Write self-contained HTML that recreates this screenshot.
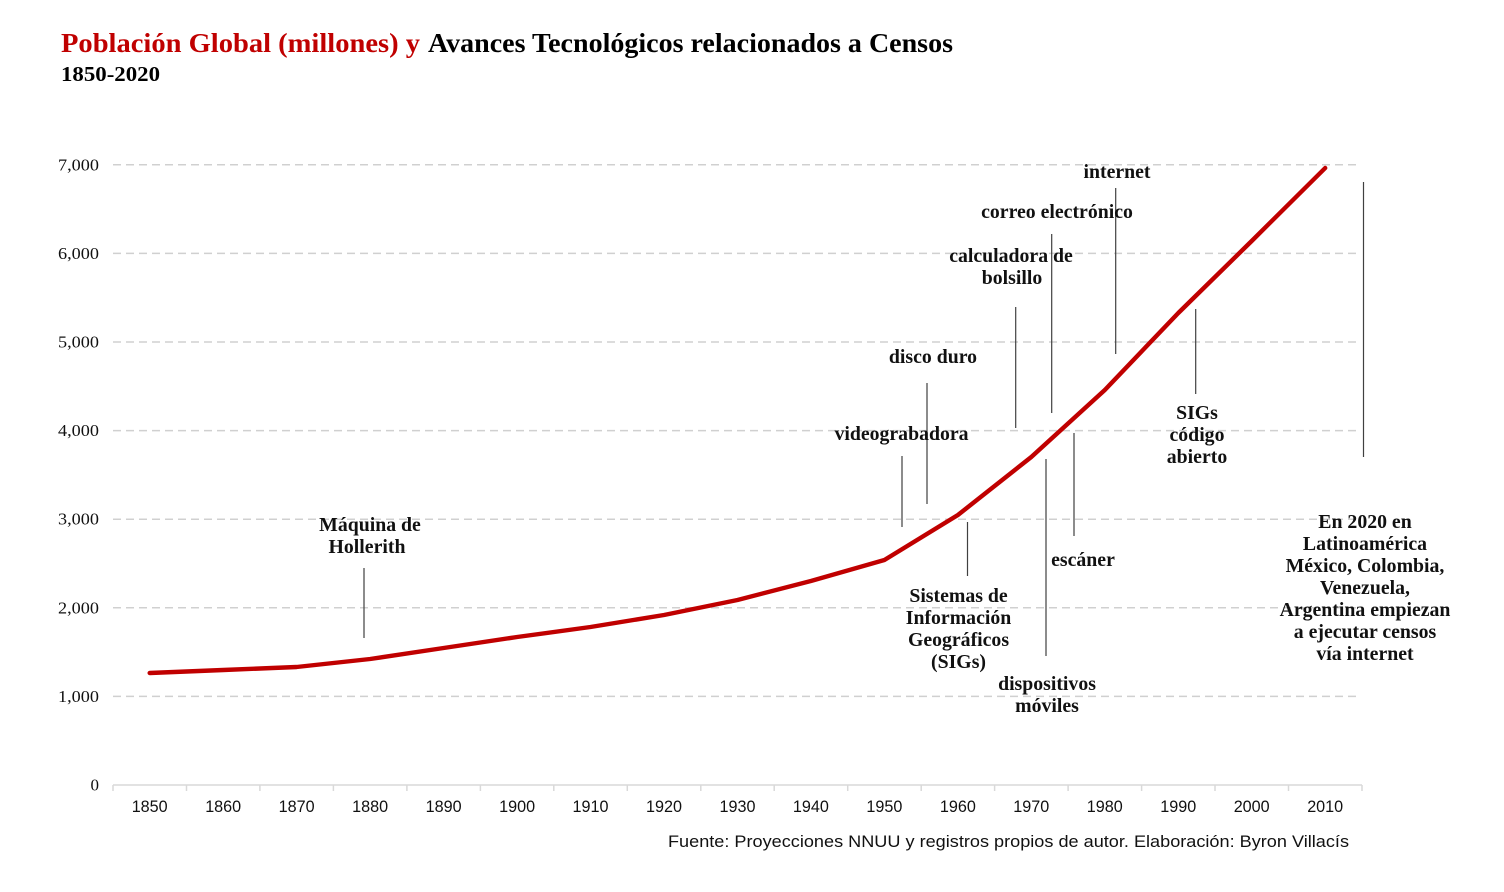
<!DOCTYPE html>
<html>
<head>
<meta charset="utf-8">
<style>
html,body{margin:0;padding:0;background:#fff;}
svg{display:block;}
.ann{font-family:"Liberation Serif",serif;font-weight:bold;font-size:19.8px;fill:#111;text-anchor:middle;}
.yl{font-family:"Liberation Serif",serif;font-size:17px;fill:#111;text-anchor:end;}
.xl{font-family:"Liberation Sans",sans-serif;font-size:17px;fill:#111;text-anchor:middle;}
</style>
</head>
<body>
<svg width="1504" height="892" viewBox="0 0 1504 892" xmlns="http://www.w3.org/2000/svg">
<rect width="1504" height="892" fill="#fff"/>
<!-- Title -->
<text x="61" y="52" font-family="Liberation Serif,serif" font-weight="bold" font-size="27" fill="#c00000" textLength="359" lengthAdjust="spacingAndGlyphs">Población Global (millones) y</text>
<text x="428" y="52" font-family="Liberation Serif,serif" font-weight="bold" font-size="27" fill="#000" textLength="525" lengthAdjust="spacingAndGlyphs">Avances Tecnológicos relacionados a Censos</text>
<text x="61" y="81" font-family="Liberation Serif,serif" font-weight="bold" font-size="21" fill="#000" textLength="99" lengthAdjust="spacingAndGlyphs">1850-2020</text>

<!-- Gridlines -->
<g stroke="#d0d0d0" stroke-width="1.5" stroke-dasharray="8,5">
<line x1="113" y1="696.4" x2="1360" y2="696.4"/>
<line x1="113" y1="607.8" x2="1360" y2="607.8"/>
<line x1="113" y1="519.2" x2="1360" y2="519.2"/>
<line x1="113" y1="430.6" x2="1360" y2="430.6"/>
<line x1="113" y1="342" x2="1360" y2="342"/>
<line x1="113" y1="253.4" x2="1360" y2="253.4"/>
<line x1="113" y1="164.8" x2="1360" y2="164.8"/>
</g>

<!-- Y labels -->
<g class="yl">
<text x="99" y="790.5">0</text>
<text x="99" y="701.9" textLength="41" lengthAdjust="spacingAndGlyphs">1,000</text>
<text x="99" y="613.3" textLength="41" lengthAdjust="spacingAndGlyphs">2,000</text>
<text x="99" y="524.7" textLength="41" lengthAdjust="spacingAndGlyphs">3,000</text>
<text x="99" y="436.1" textLength="41" lengthAdjust="spacingAndGlyphs">4,000</text>
<text x="99" y="347.5" textLength="41" lengthAdjust="spacingAndGlyphs">5,000</text>
<text x="99" y="258.9" textLength="41" lengthAdjust="spacingAndGlyphs">6,000</text>
<text x="99" y="170.3" textLength="41" lengthAdjust="spacingAndGlyphs">7,000</text>
</g>

<!-- X axis -->
<g stroke="#d9d9d9" stroke-width="1.5">
<line x1="113" y1="785" x2="1362" y2="785"/>
<line x1="113" y1="785" x2="113" y2="791"/>
<line x1="186.5" y1="785" x2="186.5" y2="791"/>
<line x1="259.9" y1="785" x2="259.9" y2="791"/>
<line x1="333.4" y1="785" x2="333.4" y2="791"/>
<line x1="406.9" y1="785" x2="406.9" y2="791"/>
<line x1="480.4" y1="785" x2="480.4" y2="791"/>
<line x1="553.8" y1="785" x2="553.8" y2="791"/>
<line x1="627.3" y1="785" x2="627.3" y2="791"/>
<line x1="700.8" y1="785" x2="700.8" y2="791"/>
<line x1="774.2" y1="785" x2="774.2" y2="791"/>
<line x1="847.7" y1="785" x2="847.7" y2="791"/>
<line x1="921.2" y1="785" x2="921.2" y2="791"/>
<line x1="994.6" y1="785" x2="994.6" y2="791"/>
<line x1="1068.1" y1="785" x2="1068.1" y2="791"/>
<line x1="1141.6" y1="785" x2="1141.6" y2="791"/>
<line x1="1215" y1="785" x2="1215" y2="791"/>
<line x1="1288.5" y1="785" x2="1288.5" y2="791"/>
<line x1="1362" y1="785" x2="1362" y2="791"/>
</g>
<g class="xl">
<text x="149.7" y="812" textLength="36" lengthAdjust="spacingAndGlyphs">1850</text>
<text x="223.2" y="812" textLength="36" lengthAdjust="spacingAndGlyphs">1860</text>
<text x="296.6" y="812" textLength="36" lengthAdjust="spacingAndGlyphs">1870</text>
<text x="370.1" y="812" textLength="36" lengthAdjust="spacingAndGlyphs">1880</text>
<text x="443.6" y="812" textLength="36" lengthAdjust="spacingAndGlyphs">1890</text>
<text x="517.1" y="812" textLength="36" lengthAdjust="spacingAndGlyphs">1900</text>
<text x="590.5" y="812" textLength="36" lengthAdjust="spacingAndGlyphs">1910</text>
<text x="664" y="812" textLength="36" lengthAdjust="spacingAndGlyphs">1920</text>
<text x="737.5" y="812" textLength="36" lengthAdjust="spacingAndGlyphs">1930</text>
<text x="810.9" y="812" textLength="36" lengthAdjust="spacingAndGlyphs">1940</text>
<text x="884.4" y="812" textLength="36" lengthAdjust="spacingAndGlyphs">1950</text>
<text x="957.9" y="812" textLength="36" lengthAdjust="spacingAndGlyphs">1960</text>
<text x="1031.3" y="812" textLength="36" lengthAdjust="spacingAndGlyphs">1970</text>
<text x="1104.8" y="812" textLength="36" lengthAdjust="spacingAndGlyphs">1980</text>
<text x="1178.3" y="812" textLength="36" lengthAdjust="spacingAndGlyphs">1990</text>
<text x="1251.7" y="812" textLength="36" lengthAdjust="spacingAndGlyphs">2000</text>
<text x="1325.2" y="812" textLength="36" lengthAdjust="spacingAndGlyphs">2010</text>
</g>

<!-- Annotation lines -->
<g stroke="#404040" stroke-width="1.2">
<line x1="364" y1="568" x2="364" y2="638"/>
<line x1="902" y1="456" x2="902" y2="527"/>
<line x1="927" y1="383" x2="927" y2="504"/>
<line x1="967.5" y1="522" x2="967.5" y2="576"/>
<line x1="1015.7" y1="307" x2="1015.7" y2="428"/>
<line x1="1051.7" y1="234" x2="1051.7" y2="413"/>
<line x1="1046" y1="459" x2="1046" y2="656"/>
<line x1="1074" y1="433" x2="1074" y2="536"/>
<line x1="1115.7" y1="188" x2="1115.7" y2="354"/>
<line x1="1195.7" y1="309" x2="1195.7" y2="394"/>
<line x1="1363.5" y1="182" x2="1363.5" y2="457"/>
</g>

<!-- Population line -->
<polyline fill="none" stroke="#c00000" stroke-width="4.4" stroke-linejoin="round" stroke-linecap="round"
points="149.7,673 223.2,670 296.6,667 370.1,659 443.6,648 517.1,637 590.5,627 664,615 737.5,600 810.9,581 884.4,560 957.9,515 1031.3,457 1104.8,390 1178.3,313 1251.7,241 1325.2,168"/>

<!-- Annotations -->
<g class="ann">
<text x="370" y="531">Máquina de</text>
<text x="367" y="553">Hollerith</text>
<text x="1117" y="178">internet</text>
<text x="1057" y="218">correo electrónico</text>
<text x="1011" y="262">calculadora de</text>
<text x="1012" y="284">bolsillo</text>
<text x="933" y="363">disco duro</text>
<text x="901.5" y="440">videograbadora</text>
<text x="958.5" y="602">Sistemas de</text>
<text x="958.5" y="624">Información</text>
<text x="958.5" y="646">Geográficos</text>
<text x="958.5" y="668">(SIGs)</text>
<text x="1083" y="566">escáner</text>
<text x="1047" y="690">dispositivos</text>
<text x="1047" y="712">móviles</text>
<text x="1197" y="419">SIGs</text>
<text x="1197" y="441">código</text>
<text x="1197" y="463">abierto</text>
<text x="1365" y="528">En 2020 en</text>
<text x="1365" y="550">Latinoamérica</text>
<text x="1365" y="572">México, Colombia,</text>
<text x="1365" y="594">Venezuela,</text>
<text x="1365" y="616">Argentina empiezan</text>
<text x="1365" y="638">a ejecutar censos</text>
<text x="1365" y="660">vía internet</text>
</g>

<!-- Source -->
<text x="668" y="847" font-family="Liberation Sans,sans-serif" font-size="16.5" fill="#111" textLength="681" lengthAdjust="spacingAndGlyphs">Fuente: Proyecciones NNUU y registros propios de autor. Elaboración: Byron Villacís</text>
</svg>
</body>
</html>
